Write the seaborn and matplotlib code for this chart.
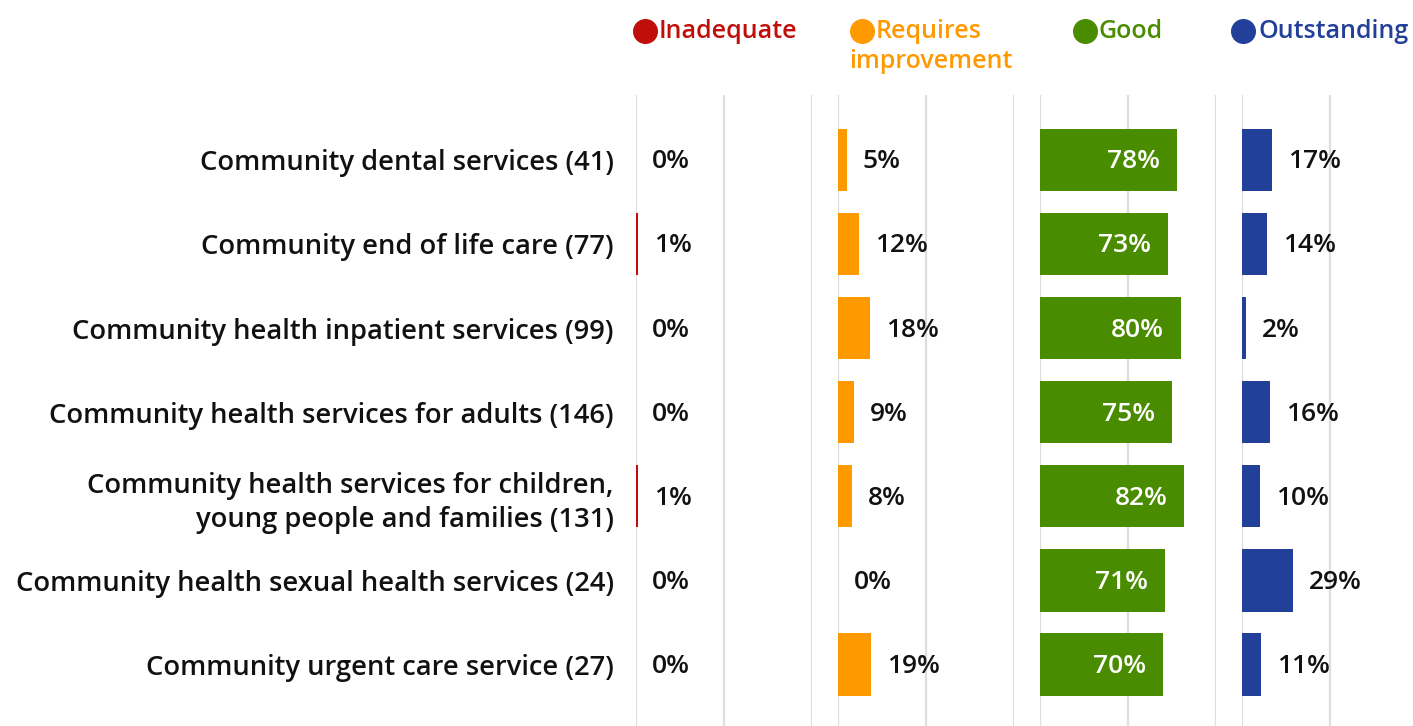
import matplotlib
matplotlib.use("Agg")
import matplotlib.pyplot as plt
from matplotlib.lines import Line2D
import pandas as pd
import seaborn as sns

services = [
    "Community dental services (41)",
    "Community end of life care (77)",
    "Community health inpatient services (99)",
    "Community health services for adults (146)",
    "Community health services for children,\nyoung people and families (131)",
    "Community health sexual health services (24)",
    "Community urgent care service (27)",
]
ratings = ["Inadequate", "Requires\nimprovement", "Good", "Outstanding"]
inadequate = [0, 1, 0, 0, 1, 0, 0]
requires_improvement = [5, 12, 18, 9, 8, 0, 19]
good = [78, 73, 80, 75, 82, 71, 70]
outstanding = [17, 14, 2, 16, 10, 29, 11]
colors = ["#C00F0A", "#FF9900", "#4A8C00", "#22409A"]

series = [inadequate, requires_improvement, good, outstanding]
df = pd.concat(
    [pd.DataFrame({"service": services, "rating": r, "pct": v})
     for r, v in zip(ratings, series)],
    ignore_index=True,
)

sns.set_theme(style="white")
plt.rcParams["font.family"] = ["Open Sans", "DejaVu Sans"]

W, H = 1413, 726
fig = plt.figure(figsize=(W / 100, H / 100), dpi=100)

FS_CAT = 19.7
FS_VAL = 19
FS_LEG = 18
panel_left0 = 636
panel_step = 202
panel_w = 176
axes_top = 95

for i, (rating, color) in enumerate(zip(ratings, colors)):
    left = panel_left0 + panel_step * i
    ax = fig.add_axes([left / W, 0, panel_w / W, (H - axes_top) / H])
    sub = df[df["rating"] == rating]
    sns.barplot(data=sub, x="pct", y="service", color=color, width=0.74,
                saturation=1, linewidth=0, ax=ax, zorder=3)
    ax.set_xlim(0, 100)
    ax.set_ylim(6.73, -0.77)
    for gx in (0, 50, 100):
        ax.axvline(gx, color="#DEDEDE", lw=1.6, zorder=1)
    for s in ax.spines.values():
        s.set_visible(False)
    ax.set_xlabel("")
    ax.set_ylabel("")
    ax.set_xticks([])
    if i == 0:
        ax.tick_params(axis="y", length=0, pad=16)
        for lab in ax.get_yticklabels():
            lab.set_fontsize(FS_CAT)
            lab.set_fontweight("semibold")
            lab.set_color("#111111")
            lab.set_multialignment("right")
            lab.set_linespacing(1.3)
    else:
        ax.set_yticks([])

    for row, v in enumerate(sub["pct"].tolist()):
        if rating == "Good":
            ax.annotate(f"{v}%", xy=(v, row), xytext=(-17, -2),
                        textcoords="offset pixels", ha="right", va="center",
                        color="white", fontsize=FS_VAL, fontweight="semibold",
                        zorder=5)
        else:
            ax.annotate(f"{v}%", xy=(v, row), xytext=(16, -2),
                        textcoords="offset pixels", ha="left", va="center",
                        color="#111111", fontsize=FS_VAL, fontweight="semibold",
                        zorder=5)

# Legend: coloured dot followed by coloured label above each panel
legend_items = [
    ("Inadequate", 645, 659, colors[0]),
    ("Requires", 862, 876, colors[1]),
    ("Good", 1085, 1099, colors[2]),
    ("Outstanding", 1243, 1258, colors[3]),
]
for text, cx, tx, color in legend_items:
    fig.add_artist(Line2D([cx / W], [1 - 31 / H], marker="o", markersize=17,
                          color=color, transform=fig.transFigure, lw=0))
    fig.text(tx / W, 1 - 32 / H, text, color=color, fontsize=FS_LEG,
             fontweight="semibold", ha="left", va="center")
fig.text(849 / W, 1 - 62 / H, "improvement", color=colors[1], fontsize=FS_LEG,
         fontweight="semibold", ha="left", va="center")

fig.savefig("out.png", dpi=100)
